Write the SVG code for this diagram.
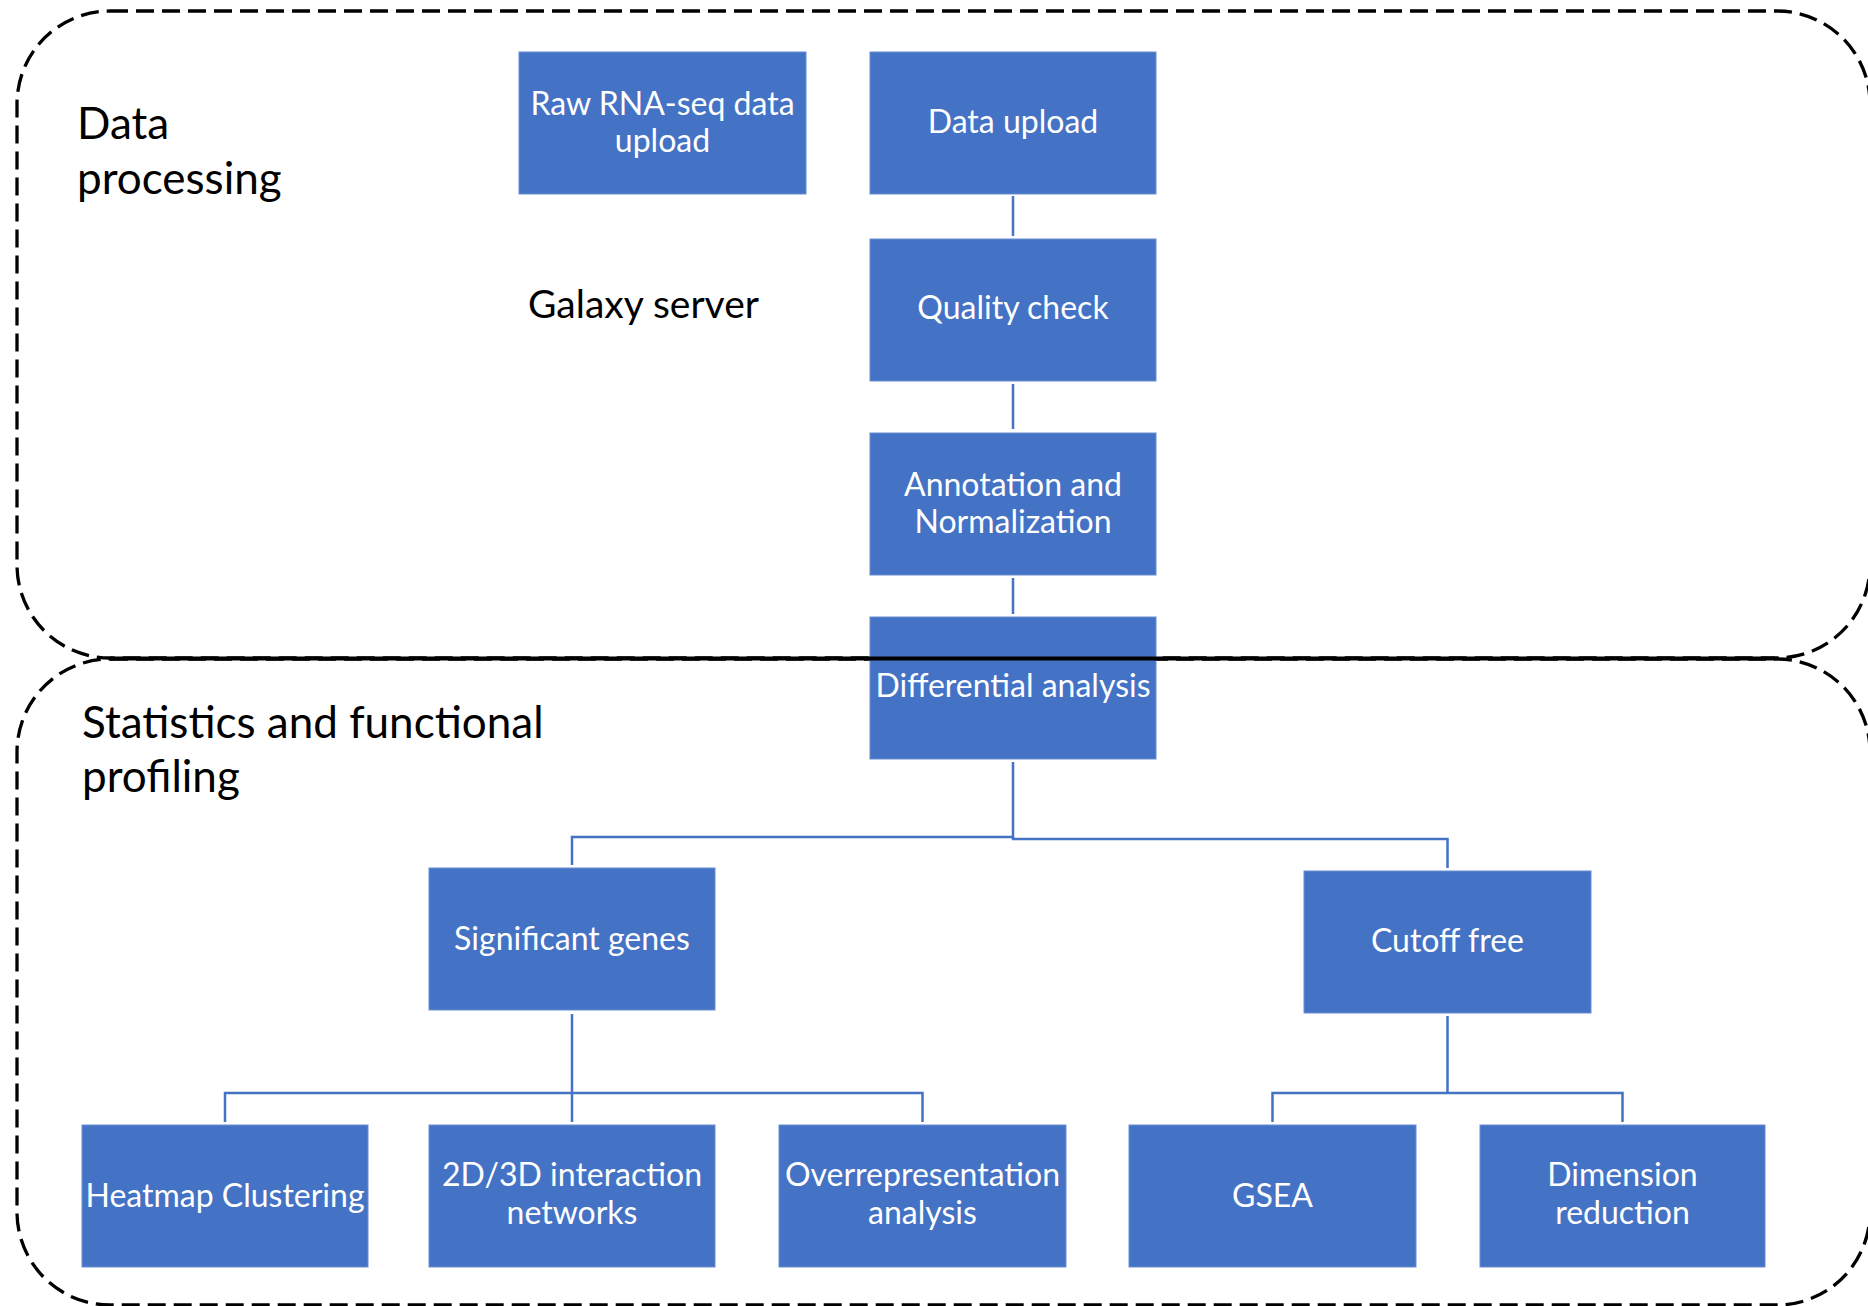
<svg xmlns="http://www.w3.org/2000/svg" width="1868" height="1306" viewBox="0 0 1868 1306">
<style>
.region{fill:none;stroke:#000;stroke-width:3.3;stroke-dasharray:18 8}
.box{fill:#4472C4;stroke:#6a8fd3;stroke-width:1}
.nt{font-family:Lato,"Open Sans",sans-serif;font-size:32px;fill:#fff;text-anchor:middle}
.hd{font-family:Lato,"Open Sans",sans-serif;fill:#000}
.conn{fill:none;stroke:#4472C4;stroke-width:2.5}
</style>
<rect width="1868" height="1306" fill="#fff"/>
<g id="region-data-processing">
<rect class="region" x="17" y="11" width="1853" height="647" rx="93" ry="93"/>
<text class="hd" font-size="44" x="77" y="139">Data</text>
<text class="hd" font-size="44" x="77" y="194">processing</text>
</g>
<g id="region-statistics">
<rect class="region" x="17" y="659" width="1853" height="646" rx="93" ry="93"/>
<text class="hd" font-size="44" x="82" y="738">Statistics and functional</text>
<text class="hd" font-size="44" x="82" y="792">profiling</text>
</g>
<g id="label-galaxy">
<text class="hd" font-size="39" x="528" y="318">Galaxy server</text>
</g>
<g id="connectors">
<line class="conn" x1="1013" y1="196" x2="1013" y2="236"/>
<line class="conn" x1="1013" y1="384" x2="1013" y2="429"/>
<line class="conn" x1="1013" y1="578" x2="1013" y2="614"/>
<polyline class="conn" points="1013,762 1013,837 572,837 572,865"/>
<polyline class="conn" points="1013,837 1013,839 1447.5,839 1447.5,868"/>
<polyline class="conn" points="572,1014 572,1122"/>
<polyline class="conn" points="225,1122 225,1093 922.5,1093 922.5,1122"/>
<polyline class="conn" points="1447.5,1016 1447.5,1093"/>
<polyline class="conn" points="1272.5,1122 1272.5,1093 1622.5,1093 1622.5,1122"/>
</g>
<g id="node-raw">
<rect class="box" x="519" y="52" width="287" height="142"/>
<text class="nt" x="662.5" y="115">Raw RNA-seq data</text>
<text class="nt" x="662.5" y="152">upload</text>
</g>
<g id="node-data-upload">
<rect class="box" x="870" y="52" width="286" height="142"/>
<text class="nt" x="1013" y="133">Data upload</text>
</g>
<g id="node-quality">
<rect class="box" x="870" y="239" width="286" height="142"/>
<text class="nt" x="1013" y="319">Quality check</text>
</g>
<g id="node-annotation">
<rect class="box" x="870" y="433" width="286" height="142"/>
<text class="nt" x="1013" y="495.5">Annotation and</text>
<text class="nt" x="1013" y="532.5">Normalization</text>
</g>
<g id="node-differential">
<rect class="box" x="870" y="617" width="286" height="142"/>
<text class="nt" x="1013" y="697">Differential analysis</text>
</g>
<g id="node-significant">
<rect class="box" x="429" y="868" width="286" height="142"/>
<text class="nt" x="572" y="950">Significant genes</text>
</g>
<g id="node-cutoff">
<rect class="box" x="1304" y="871" width="287" height="142"/>
<text class="nt" x="1447.5" y="952">Cutoff free</text>
</g>
<g id="node-heatmap">
<rect class="box" x="82" y="1125" width="286" height="142"/>
<text class="nt" x="225" y="1207">Heatmap Clustering</text>
</g>
<g id="node-networks">
<rect class="box" x="429" y="1125" width="286" height="142"/>
<text class="nt" x="572" y="1186">2D/3D interaction</text>
<text class="nt" x="572" y="1224">networks</text>
</g>
<g id="node-overrep">
<rect class="box" x="779" y="1125" width="287" height="142"/>
<text class="nt" x="922.5" y="1186">Overrepresentation</text>
<text class="nt" x="922.5" y="1224">analysis</text>
</g>
<g id="node-gsea">
<rect class="box" x="1129" y="1125" width="287" height="142"/>
<text class="nt" x="1272.5" y="1207">GSEA</text>
</g>
<g id="node-dimension">
<rect class="box" x="1480" y="1125" width="285" height="142"/>
<text class="nt" x="1622.5" y="1186">Dimension</text>
<text class="nt" x="1622.5" y="1224">reduction</text>
</g>
<g id="divider">
<line x1="110" y1="658.5" x2="1775" y2="658.5" stroke="#000" stroke-width="4"/>
</g>
</svg>
